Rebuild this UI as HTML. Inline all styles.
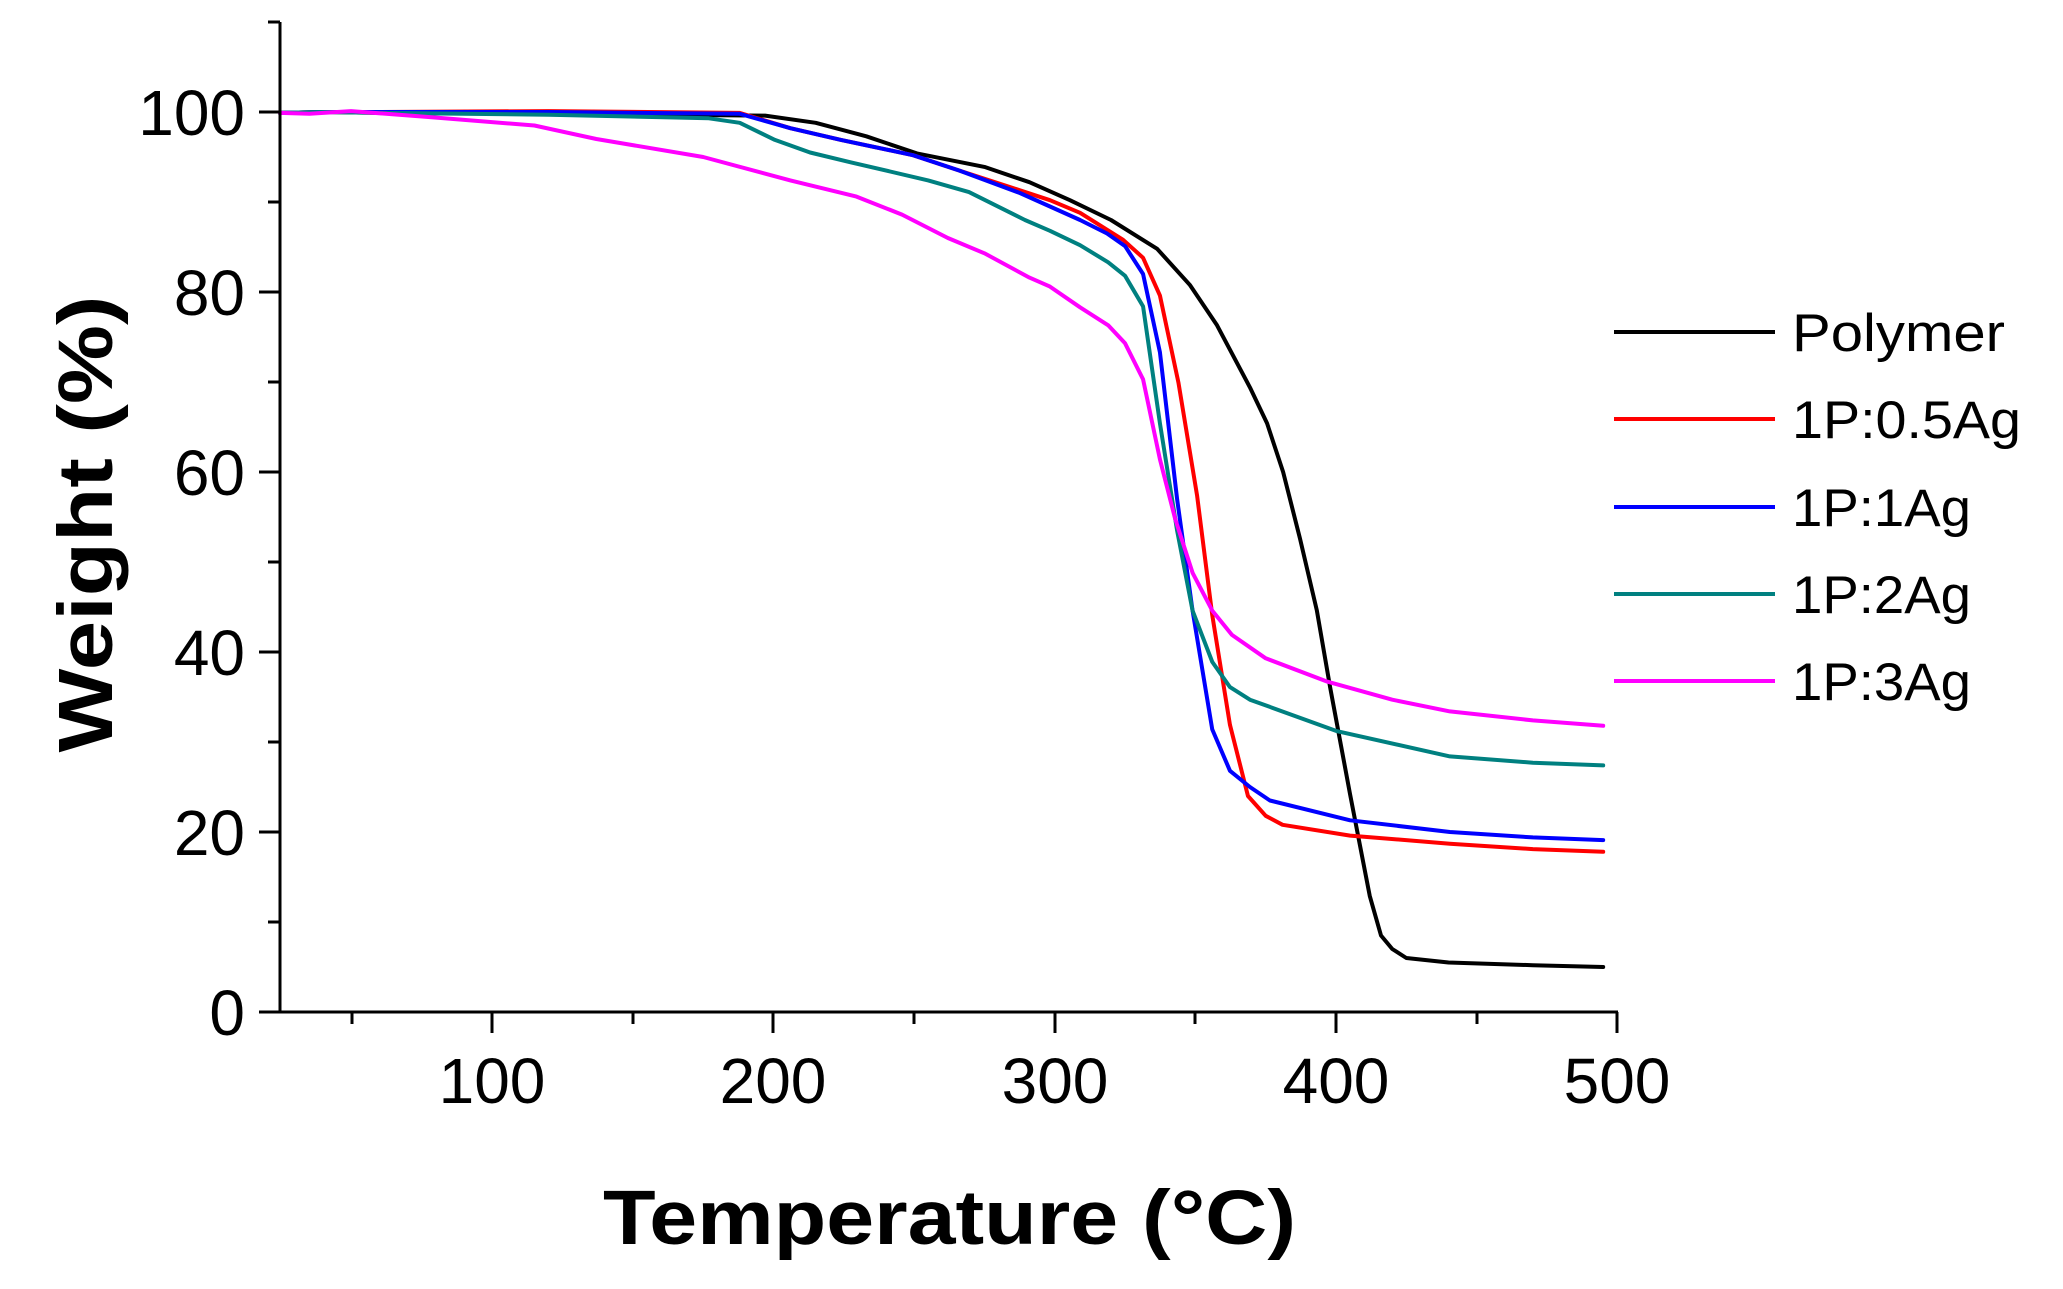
<!DOCTYPE html>
<html><head><meta charset="utf-8"><style>
html,body{margin:0;padding:0;background:#fff;}
svg{display:block;}
text{font-family:"Liberation Sans",sans-serif;fill:#000;}
</style></head><body>
<svg width="2063" height="1289" viewBox="0 0 2063 1289" xmlns="http://www.w3.org/2000/svg">
<defs>
<!-- T -> x = 211 + 2.8125T ; w -> y = 1012 - 9w -->
</defs>
<g fill="none" stroke-linejoin="round" stroke-linecap="round" stroke-width="4">
<polyline stroke="#000" transform="matrix(2.8125 0 0 -9 211 1012)" vector-effect="non-scaling-stroke" points="24.5,99.9 40,100 60,99.9 120,99.8 197,99.6 215,98.8 233,97.3 251,95.4 275,93.9 291,92.2 305.4,90.2 320,88 336.4,84.8 348,80.8 357.7,76.3 369.4,69.4 375.5,65.4 381.2,60 387.2,52.6 393.2,44.6 397.9,36.1 405,24.2 412,12.9 416,8.5 420,7 425,6 440,5.5 470,5.2 495,5"/>
<polyline stroke="#ff0000" transform="matrix(2.8125 0 0 -9 211 1012)" vector-effect="non-scaling-stroke" points="24.5,99.9 40,100 60,100 120,100.1 188,99.9 206,98.2 224,96.9 249.6,95.2 266,93.5 287.6,91.3 298.3,90.2 309,88.8 324.3,85.8 331.4,83.8 337.4,79.6 344,69.9 350.6,57.4 356,44.1 362.3,31.9 368.7,24 375,21.8 381,20.8 405,19.6 440.5,18.7 470,18.1 495,17.8"/>
<polyline stroke="#0000ff" transform="matrix(2.8125 0 0 -9 211 1012)" vector-effect="non-scaling-stroke" points="24.5,99.9 40,100 60,100 120,100 188,99.8 206,98.2 224,96.9 249.6,95.2 266,93.5 287.6,91 298.3,89.5 309,88 318.6,86.5 325,85.1 331.4,82 337.4,73.3 343.5,57 349,44.6 356,31.4 362.3,26.8 369.4,25 376.5,23.5 405,21.3 440.5,20 470,19.4 495,19.1"/>
<polyline stroke="#008080" transform="matrix(2.8125 0 0 -9 211 1012)" vector-effect="non-scaling-stroke" points="24.5,99.9 40,100 60,99.9 120,99.7 177,99.3 188,98.8 200.5,96.9 213,95.5 227.6,94.4 255,92.4 269.5,91.1 289.4,88 298.3,86.8 309,85.2 319,83.3 325,81.8 331.4,78.4 337.4,65.4 343.5,53.5 349,44.6 356,38.9 362.3,36.1 369.4,34.7 400.4,31.2 440.5,28.4 470,27.7 495,27.4"/>
<polyline stroke="#ff00ff" transform="matrix(2.8125 0 0 -9 211 1012)" vector-effect="non-scaling-stroke" points="24.5,99.9 35,99.8 49.8,100.1 79,99.4 115,98.5 137,97 175,95 206,92.4 229.5,90.6 245.7,88.6 262,86 275,84.3 291,81.6 298.3,80.6 309,78.3 319,76.3 325,74.3 331.4,70.3 337.4,61.4 342.8,54.8 349,48.8 356,44.6 363,41.9 375,39.3 397,36.7 420,34.7 440.5,33.4 470,32.4 495,31.8"/>
</g>
<g stroke="#000" stroke-width="3" fill="none">
<line x1="280" y1="22" x2="280" y2="1013"/>
<line x1="259" y1="1012" x2="1618" y2="1012"/>
<line x1="259" y1="1012" x2="280" y2="1012"/>
<line x1="259" y1="832" x2="280" y2="832"/>
<line x1="259" y1="652" x2="280" y2="652"/>
<line x1="259" y1="472" x2="280" y2="472"/>
<line x1="259" y1="292" x2="280" y2="292"/>
<line x1="259" y1="112" x2="280" y2="112"/>
<line x1="268" y1="922" x2="280" y2="922"/>
<line x1="268" y1="742" x2="280" y2="742"/>
<line x1="268" y1="562" x2="280" y2="562"/>
<line x1="268" y1="382" x2="280" y2="382"/>
<line x1="268" y1="202" x2="280" y2="202"/>
<line x1="268" y1="22" x2="280" y2="22"/>
<line x1="492" y1="1012" x2="492" y2="1033"/>
<line x1="773" y1="1012" x2="773" y2="1033"/>
<line x1="1055" y1="1012" x2="1055" y2="1033"/>
<line x1="1336" y1="1012" x2="1336" y2="1033"/>
<line x1="1617" y1="1012" x2="1617" y2="1033"/>
<line x1="352" y1="1012" x2="352" y2="1024"/>
<line x1="633" y1="1012" x2="633" y2="1024"/>
<line x1="914" y1="1012" x2="914" y2="1024"/>
<line x1="1195" y1="1012" x2="1195" y2="1024"/>
<line x1="1477" y1="1012" x2="1477" y2="1024"/>
</g>
<g font-size="64" text-anchor="end">
<text x="245" y="1035">0</text>
<text x="245" y="855">20</text>
<text x="245" y="675">40</text>
<text x="245" y="495">60</text>
<text x="245" y="315">80</text>
<text x="245" y="135">100</text>
</g>
<g font-size="64" text-anchor="middle">
<text x="492" y="1103">100</text>
<text x="773" y="1103">200</text>
<text x="1055" y="1103">300</text>
<text x="1336" y="1103">400</text>
<text x="1617" y="1103">500</text>
</g>
<text x="603" y="1244" font-size="77" font-weight="bold" textLength="693" lengthAdjust="spacingAndGlyphs">Temperature (°C)</text>
<text transform="translate(112,524) rotate(-90)" x="0" y="0" text-anchor="middle" font-size="77" font-weight="bold" textLength="457" lengthAdjust="spacingAndGlyphs">Weight  (%)</text>
<g stroke-width="4">
<line x1="1614" y1="332" x2="1775" y2="332" stroke="#000"/>
<line x1="1614" y1="419" x2="1775" y2="419" stroke="#ff0000"/>
<line x1="1614" y1="507" x2="1775" y2="507" stroke="#0000ff"/>
<line x1="1614" y1="594" x2="1775" y2="594" stroke="#008080"/>
<line x1="1614" y1="681" x2="1775" y2="681" stroke="#ff00ff"/>
</g>
<g font-size="53">
<text x="1792" y="351" textLength="213" lengthAdjust="spacingAndGlyphs">Polymer</text>
<text x="1792" y="438" textLength="229" lengthAdjust="spacingAndGlyphs">1P:0.5Ag</text>
<text x="1792" y="526" textLength="179" lengthAdjust="spacingAndGlyphs">1P:1Ag</text>
<text x="1792" y="613" textLength="179" lengthAdjust="spacingAndGlyphs">1P:2Ag</text>
<text x="1792" y="700" textLength="179" lengthAdjust="spacingAndGlyphs">1P:3Ag</text>
</g>
</svg>
</body></html>
